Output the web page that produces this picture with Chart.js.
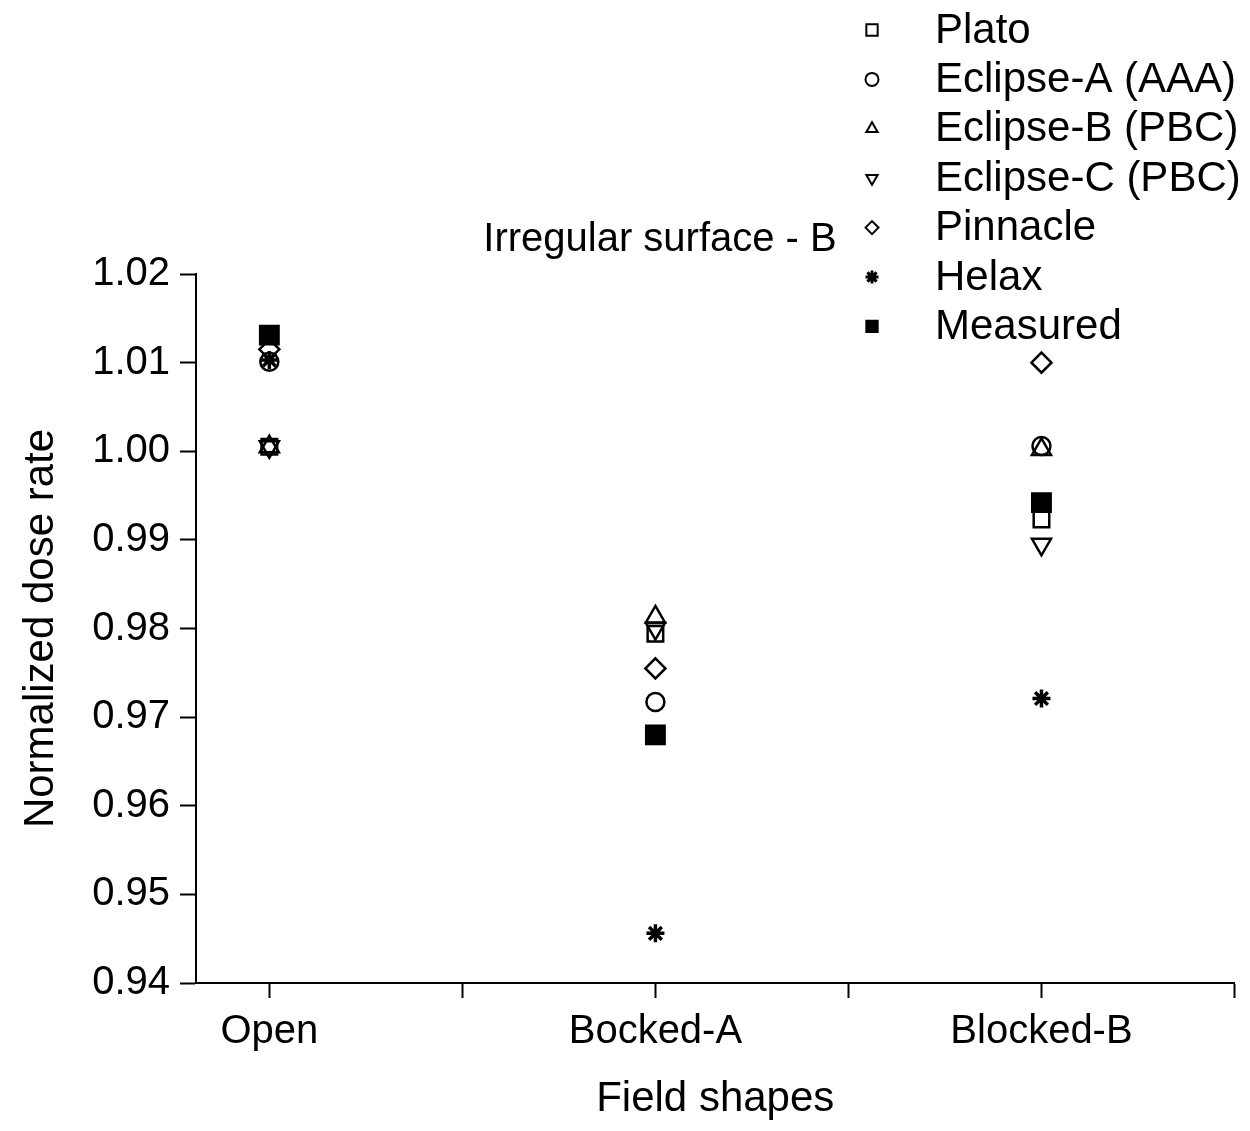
<!DOCTYPE html>
<html>
<head>
<meta charset="utf-8">
<script src="https://cdn.jsdelivr.net/npm/chart.js@4/dist/chart.umd.min.js"></script>
<style>
  html, body { margin: 0; padding: 0; background: #fff; overflow: hidden; }
  canvas { display: block; }
</style>
</head>
<body>
<canvas id="chart" width="1250" height="1131"></canvas>
<script>
// ===== data =====
const categories = ['Open', 'Bocked-A', 'Blocked-B'];
const plato    = [1.0005, 0.9794, 0.9923];
const eclipseA = [1.0101, 0.9717, 1.0006];
const eclipseB = [1.0005, 0.9813, 1.0002];
const eclipseC = [1.0005, 0.9800, 0.9895];
const pinnacle = [1.0115, 0.9755, 1.0100];
const helax    = [1.0103, 0.9456, 0.9721];
const measured = [1.0131, 0.9680, 0.9942];
const yTicks   = [0.94, 0.95, 0.96, 0.97, 0.98, 0.99, 1.00, 1.01, 1.02];

const FONT = '"Liberation Sans", Arial, sans-serif';
const CLEAR = 'rgba(0,0,0,0)';

// ===== helper functions =====
function pts(arr) {
  return arr.map((v, i) => ({ x: i + 1, y: v }));
}

function series(label, arr, style, radius, opts) {
  return Object.assign({
    label,
    data: pts(arr),
    pointStyle: style,
    pointRadius: radius,
    pointHoverRadius: radius,
    pointBorderColor: '#000',
    pointBackgroundColor: CLEAR,
    pointBorderWidth: 2.5,
    showLine: false
  }, opts || {});
}

const datasets = [
  series('Plato', plato, 'rect', 11),
  series('Eclipse-A (AAA)', eclipseA, 'circle', 9),
  series('Eclipse-B (PBC)', eclipseB, 'triangle', 11),
  series('Eclipse-C (PBC)', eclipseC, 'triangle', 11, { pointRotation: 180 }),
  series('Pinnacle', pinnacle, 'rectRot', 10),
  series('Helax', helax, 'star', 9, { pointBorderWidth: 3.5 }),
  series('Measured', measured, 'rect', 13, { pointBackgroundColor: '#000' })
];

// legend + title drawn in the top-right corner, over the plot like the original
const cornerText = {
  id: 'cornerText',
  afterDraw(chart) {
    const ctx = chart.ctx;
    ctx.save();
    ctx.fillStyle = '#000';
    ctx.textBaseline = 'middle';

    ctx.font = '40px ' + FONT;
    ctx.textAlign = 'center';
    ctx.fillText('Irregular surface - B', 660, 240);

    ctx.font = '42px ' + FONT;
    ctx.textAlign = 'left';
    chart.data.datasets.forEach((ds, i) => {
      const y = 30 + i * 49.4;
      ctx.strokeStyle = '#000';
      ctx.fillStyle = ds.pointBackgroundColor;
      ctx.lineWidth = ds.pointStyle === 'star' ? 3 : 2;
      Chart.helpers.drawPoint(ctx, {
        pointStyle: ds.pointStyle,
        rotation: ds.pointRotation || 0,
        radius: ds.pointStyle === 'rect' ? 8 : 6.5,
        borderWidth: ctx.lineWidth
      }, 872, y);
      ctx.fillStyle = '#000';
      ctx.fillText(ds.label, 935, y + 1);
    });
    ctx.restore();
  }
};

new Chart(document.getElementById('chart'), {
  type: 'scatter',
  data: { datasets },
  plugins: [cornerText],
  options: {
    responsive: false,
    animation: false,
    devicePixelRatio: 1,
    layout: { padding: { top: 274, right: 8, left: 0, bottom: 0 } },
    plugins: {
      legend: { display: false },
      tooltip: { enabled: false }
    },
    scales: {
      x: {
        type: 'linear',
        min: 0.81,
        max: 3.5,
        afterBuildTicks: s => { s.ticks = [1, 1.5, 2, 2.5, 3, 3.5].map(v => ({ value: v })); },
        afterFit: s => { s.height = 148; s.paddingRight = 0; s.paddingLeft = 0; },
        ticks: {
          autoSkip: false,
          maxRotation: 0,
          padding: 10,
          color: '#000',
          font: { family: FONT, size: 40 },
          callback: v => (Number.isInteger(v) && categories[v - 1]) ? categories[v - 1] : ''
        },
        grid: {
          drawOnChartArea: false,
          drawTicks: true,
          tickLength: 15,
          tickWidth: 2,
          tickColor: '#000'
        },
        border: { color: '#000', width: 2 },
        title: {
          display: true,
          text: 'Field shapes',
          color: '#000',
          font: { family: FONT, size: 42 },
          padding: { top: 0, bottom: 6 }
        }
      },
      y: {
        min: 0.94,
        max: 1.02,
        afterBuildTicks: s => { s.ticks = yTicks.map(v => ({ value: v })); },
        afterFit: s => { s.width = 196; },
        ticks: {
          padding: 10,
          color: '#000',
          font: { family: FONT, size: 40 },
          callback: v => v.toFixed(2)
        },
        grid: {
          drawOnChartArea: false,
          drawTicks: true,
          tickLength: 16,
          tickWidth: 2,
          tickColor: '#000'
        },
        border: { color: '#000', width: 2 },
        title: {
          display: true,
          text: 'Normalized dose rate',
          color: '#000',
          font: { family: FONT, size: 42 },
          padding: { top: 16, bottom: 0 }
        }
      }
    }
  }
});
</script>
</body>
</html>
